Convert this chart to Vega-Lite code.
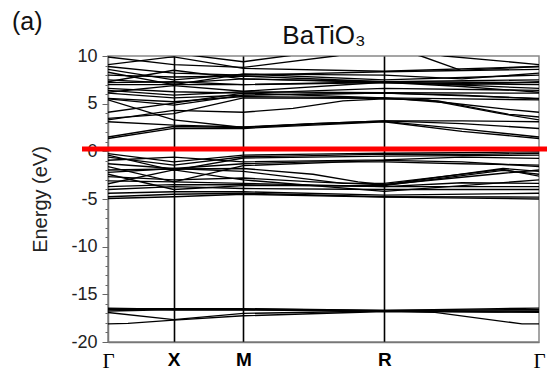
{
  "$schema": "https://vega.github.io/schema/vega-lite/v6.json",
  "width": 431,
  "height": 286,
  "autosize": {"type": "none"},
  "padding": {"left": 108, "top": 56, "right": 8, "bottom": 32},
  "background": "white",
  "config": {"view": {"stroke": "#888", "strokeWidth": 1.5}},
  "title": {"text": "(a)", "anchor": "start", "frame": "group", "dx": -96, "dy": 17, "fontSize": 25, "fontWeight": "normal", "font": "Liberation Sans", "color": "#111"},
  "datasets": {
    "bands": [
      {"b":"b1","k":0,"e":1.35},{"b":"b1","k":65.7,"e":2.4},{"b":"b1","k":135.3,"e":2.4},{"b":"b1","k":205,"e":2.75},{"b":"b1","k":276.3,"e":3.1},{"b":"b1","k":354,"e":2.1},{"b":"b1","k":431,"e":1.35},
      {"b":"b2","k":0,"e":1.5},{"b":"b2","k":65.7,"e":2.6},{"b":"b2","k":135.3,"e":2.5},{"b":"b2","k":205,"e":2.85},{"b":"b2","k":276.3,"e":3.15},{"b":"b2","k":354,"e":2.35},{"b":"b2","k":431,"e":1.5},
      {"b":"b3","k":0,"e":3.1},{"b":"b3","k":65.7,"e":2.75},{"b":"b3","k":135.3,"e":2.55},{"b":"b3","k":205,"e":2.9},{"b":"b3","k":276.3,"e":3.2},{"b":"b3","k":354,"e":3.2},{"b":"b3","k":431,"e":3.1},
      {"b":"b4","k":0,"e":3.3},{"b":"b4","k":65.7,"e":4.3},{"b":"b4","k":135.3,"e":4.1},{"b":"b4","k":185,"e":4.5},{"b":"b4","k":235,"e":5.3},{"b":"b4","k":276.3,"e":5.5},{"b":"b4","k":320,"e":5.4},{"b":"b4","k":390,"e":4.0},{"b":"b4","k":431,"e":3.3},
      {"b":"b5","k":0,"e":5.4},{"b":"b5","k":65.7,"e":3.3},{"b":"b5","k":135.3,"e":2.5},{"b":"b5","k":205,"e":2.9},{"b":"b5","k":276.3,"e":3.2},{"b":"b5","k":354,"e":2.9},{"b":"b5","k":431,"e":2.4},
      {"b":"b6","k":0,"e":3.45},{"b":"b6","k":65.7,"e":3.95},{"b":"b6","k":135.3,"e":5.6},{"b":"b6","k":276.3,"e":5.55},{"b":"b6","k":330,"e":5.3},{"b":"b6","k":400,"e":3.9},{"b":"b6","k":431,"e":3.6},
      {"b":"b7","k":0,"e":4.1},{"b":"b7","k":65.7,"e":5.05},{"b":"b7","k":135.3,"e":6.1},{"b":"b7","k":276.3,"e":5.6},{"b":"b7","k":340,"e":5.1},{"b":"b7","k":400,"e":4.4},{"b":"b7","k":431,"e":4.1},
      {"b":"b8","k":0,"e":5.55},{"b":"b8","k":65.7,"e":5.2},{"b":"b8","k":135.3,"e":5.75},{"b":"b8","k":276.3,"e":5.6},{"b":"b8","k":354,"e":5.5},{"b":"b8","k":431,"e":5.4},
      {"b":"b9","k":0,"e":6.1},{"b":"b9","k":65.7,"e":5.6},{"b":"b9","k":135.3,"e":5.9},{"b":"b9","k":276.3,"e":6.1},{"b":"b9","k":431,"e":5.55},
      {"b":"b10","k":0,"e":6.4},{"b":"b10","k":65.7,"e":5.9},{"b":"b10","k":135.3,"e":6.25},{"b":"b10","k":276.3,"e":6.15},{"b":"b10","k":431,"e":6.1},
      {"b":"b11","k":0,"e":6.6},{"b":"b11","k":65.7,"e":6.25},{"b":"b11","k":135.3,"e":6.1},{"b":"b11","k":276.3,"e":6.6},{"b":"b11","k":431,"e":6.4},
      {"b":"b12","k":0,"e":7.0},{"b":"b12","k":65.7,"e":7.0},{"b":"b12","k":135.3,"e":7.0},{"b":"b12","k":276.3,"e":7.3},{"b":"b12","k":431,"e":6.6},
      {"b":"b13","k":0,"e":7.2},{"b":"b13","k":65.7,"e":7.3},{"b":"b13","k":135.3,"e":7.0},{"b":"b13","k":276.3,"e":7.2},{"b":"b13","k":431,"e":7.0},
      {"b":"b14","k":0,"e":7.5},{"b":"b14","k":65.7,"e":7.15},{"b":"b14","k":135.3,"e":7.6},{"b":"b14","k":276.3,"e":7.3},{"b":"b14","k":431,"e":7.2},
      {"b":"b15","k":0,"e":8.0},{"b":"b15","k":65.7,"e":7.8},{"b":"b15","k":135.3,"e":7.9},{"b":"b15","k":276.3,"e":7.3},{"b":"b15","k":431,"e":7.5},
      {"b":"b16","k":0,"e":8.6},{"b":"b16","k":65.7,"e":7.5},{"b":"b16","k":135.3,"e":8.1},{"b":"b16","k":276.3,"e":7.5},{"b":"b16","k":431,"e":8.0},
      {"b":"b17","k":0,"e":8.9},{"b":"b17","k":65.7,"e":8.2},{"b":"b17","k":135.3,"e":8.0},{"b":"b17","k":276.3,"e":8.35},{"b":"b17","k":431,"e":8.6},
      {"b":"b18","k":0,"e":9.1},{"b":"b18","k":60,"e":9.85},{"b":"b18","k":65.7,"e":9.9},{"b":"b18","k":135.3,"e":8.7},{"b":"b18","k":276.3,"e":8.4},{"b":"b18","k":431,"e":8.9},
      {"b":"b19","k":0,"e":9.9},{"b":"b19","k":65.7,"e":9.1},{"b":"b19","k":135.3,"e":8.8},{"b":"b19","k":227,"e":10.0},{"b":"b19","k":276.3,"e":10.8},{"b":"b19","k":313,"e":10.0},{"b":"b19","k":353,"e":8.5},{"b":"b19","k":431,"e":8.9},
      {"b":"b20","k":0,"e":10.5},{"b":"b20","k":65.7,"e":10.3},{"b":"b20","k":135.3,"e":9.4},{"b":"b20","k":200,"e":10.3},{"b":"b20","k":276.3,"e":11},{"b":"b20","k":337,"e":10.0},{"b":"b20","k":431,"e":9.1},
      {"b":"b21","k":0,"e":5.5},{"b":"b21","k":65.7,"e":4.85},{"b":"b21","k":135.3,"e":5.9},{"b":"b21","k":276.3,"e":6.1},{"b":"b21","k":354,"e":5.9},{"b":"b21","k":431,"e":5.5},
      {"b":"b22","k":0,"e":7.3},{"b":"b22","k":65.7,"e":8.5},{"b":"b22","k":135.3,"e":7.6},{"b":"b22","k":276.3,"e":7.2},{"b":"b22","k":354,"e":7.0},{"b":"b22","k":431,"e":7.3},
      {"b":"b23","k":0,"e":6.2},{"b":"b23","k":65.7,"e":6.9},{"b":"b23","k":135.3,"e":6.3},{"b":"b23","k":276.3,"e":7.25},{"b":"b23","k":354,"e":6.8},{"b":"b23","k":431,"e":6.2},
      {"b":"b24","k":0,"e":8.3},{"b":"b24","k":65.7,"e":7.0},{"b":"b24","k":135.3,"e":8.1},{"b":"b24","k":276.3,"e":8.0},{"b":"b24","k":354,"e":7.6},{"b":"b24","k":431,"e":8.2},
      {"b":"v1","k":0,"e":-0.24},{"b":"v1","k":65.7,"e":-1.1},{"b":"v1","k":135.3,"e":-0.4},{"b":"v1","k":205,"e":-0.3},{"b":"v1","k":276.3,"e":-0.2},{"b":"v1","k":354,"e":-0.15},{"b":"v1","k":431,"e":-0.05},
      {"b":"v2","k":0,"e":-0.6},{"b":"v2","k":65.7,"e":-1.44},{"b":"v2","k":135.3,"e":-0.57},{"b":"v2","k":205,"e":-0.45},{"b":"v2","k":276.3,"e":-0.3},{"b":"v2","k":354,"e":-0.35},{"b":"v2","k":431,"e":-0.2},
      {"b":"v3","k":0,"e":-0.94},{"b":"v3","k":65.7,"e":-0.6},{"b":"v3","k":135.3,"e":-1.1},{"b":"v3","k":276.3,"e":-0.9},{"b":"v3","k":354,"e":-0.6},{"b":"v3","k":431,"e":-0.74},
      {"b":"v4","k":0,"e":-1.3},{"b":"v4","k":65.7,"e":-1.8},{"b":"v4","k":135.3,"e":-1.3},{"b":"v4","k":205,"e":-1.1},{"b":"v4","k":276.3,"e":-1.1},{"b":"v4","k":354,"e":-1.3},{"b":"v4","k":431,"e":-1.44},
      {"b":"v5","k":0,"e":-1.96},{"b":"v5","k":65.7,"e":-1.85},{"b":"v5","k":135.3,"e":-1.8},{"b":"v5","k":205,"e":-2.4},{"b":"v5","k":250,"e":-3.2},{"b":"v5","k":276.3,"e":-3.5},{"b":"v5","k":395,"e":-1.8},{"b":"v5","k":431,"e":-2.1},
      {"b":"v6","k":0,"e":-2.2},{"b":"v6","k":65.7,"e":-1.8},{"b":"v6","k":135.3,"e":-2.1},{"b":"v6","k":235,"e":-3.36},{"b":"v6","k":276.3,"e":-3.36},{"b":"v6","k":395,"e":-1.9},{"b":"v6","k":431,"e":-2.6},
      {"b":"v7","k":0,"e":-2.66},{"b":"v7","k":65.7,"e":-3.0},{"b":"v7","k":135.3,"e":-2.8},{"b":"v7","k":205,"e":-3.2},{"b":"v7","k":276.3,"e":-3.5},{"b":"v7","k":395,"e":-2.3},{"b":"v7","k":431,"e":-1.96},
      {"b":"v8","k":0,"e":-3.1},{"b":"v8","k":65.7,"e":-3.2},{"b":"v8","k":135.3,"e":-3.36},{"b":"v8","k":276.3,"e":-3.7},{"b":"v8","k":354,"e":-3.3},{"b":"v8","k":431,"e":-3.36},
      {"b":"v9","k":0,"e":-3.7},{"b":"v9","k":65.7,"e":-3.5},{"b":"v9","k":135.3,"e":-3.5},{"b":"v9","k":276.3,"e":-3.7},{"b":"v9","k":431,"e":-3.7},
      {"b":"v10","k":0,"e":-4.0},{"b":"v10","k":65.7,"e":-3.7},{"b":"v10","k":135.3,"e":-3.9},{"b":"v10","k":276.3,"e":-4.0},{"b":"v10","k":431,"e":-4.0},
      {"b":"v11","k":0,"e":-4.4},{"b":"v11","k":65.7,"e":-4.24},{"b":"v11","k":135.3,"e":-4.24},{"b":"v11","k":276.3,"e":-4.6},{"b":"v11","k":431,"e":-4.4},
      {"b":"v12","k":0,"e":-4.76},{"b":"v12","k":65.7,"e":-4.5},{"b":"v12","k":135.3,"e":-4.4},{"b":"v12","k":276.3,"e":-4.76},{"b":"v12","k":431,"e":-4.8},
      {"b":"v13","k":0,"e":-4.95},{"b":"v13","k":65.7,"e":-4.76},{"b":"v13","k":135.3,"e":-4.5},{"b":"v13","k":276.3,"e":-4.8},{"b":"v13","k":431,"e":-5.0},
      {"b":"v14","k":0,"e":-0.4},{"b":"v14","k":65.7,"e":-2.0},{"b":"v14","k":135.3,"e":-0.7},{"b":"v14","k":276.3,"e":-0.5},{"b":"v14","k":431,"e":-0.4},
      {"b":"v15","k":0,"e":-3.4},{"b":"v15","k":65.7,"e":-1.95},{"b":"v15","k":135.3,"e":-3.0},{"b":"v15","k":276.3,"e":-4.2},{"b":"v15","k":431,"e":-3.0},
      {"b":"v16","k":0,"e":-1.6},{"b":"v16","k":65.7,"e":-3.2},{"b":"v16","k":135.3,"e":-1.5},{"b":"v16","k":276.3,"e":-0.95},{"b":"v16","k":354,"e":-1.1},{"b":"v16","k":431,"e":-1.6},
      {"b":"v17","k":0,"e":-2.4},{"b":"v17","k":65.7,"e":-4.0},{"b":"v17","k":135.3,"e":-3.6},{"b":"v17","k":276.3,"e":-3.6},{"b":"v17","k":395,"e":-2.0},{"b":"v17","k":431,"e":-2.4},
      {"b":"L1","k":0,"e":-18.1},{"b":"L1","k":20,"e":-18.05},{"b":"L1","k":65.7,"e":-17.7},{"b":"L1","k":135.3,"e":-17.25},{"b":"L1","k":276.3,"e":-16.8},{"b":"L1","k":327,"e":-16.9},{"b":"L1","k":414,"e":-18.1},{"b":"L1","k":431,"e":-18.1},
      {"b":"L2","k":0,"e":-16.9},{"b":"L2","k":65.7,"e":-17.65},{"b":"L2","k":135.3,"e":-17.0},{"b":"L2","k":276.3,"e":-16.75},{"b":"L2","k":327,"e":-16.8},{"b":"L2","k":431,"e":-16.9},
      {"b":"L3","k":0,"e":-16.75},{"b":"L3","k":25,"e":-16.7},{"b":"L3","k":65.7,"e":-16.6},{"b":"L3","k":135.3,"e":-16.6},{"b":"L3","k":276.3,"e":-16.75},{"b":"L3","k":431,"e":-16.75},
      {"b":"L4","k":0,"e":-16.6},{"b":"L4","k":65.7,"e":-16.55},{"b":"L4","k":135.3,"e":-16.55},{"b":"L4","k":276.3,"e":-16.7},{"b":"L4","k":431,"e":-16.6},
      {"b":"L5","k":0,"e":-16.45},{"b":"L5","k":30,"e":-16.5},{"b":"L5","k":65.7,"e":-16.5},{"b":"L5","k":135.3,"e":-16.5},{"b":"L5","k":276.3,"e":-16.7},{"b":"L5","k":390,"e":-16.5},{"b":"L5","k":431,"e":-16.45},
      {"b":"L6","k":0,"e":-16.5},{"b":"L6","k":30,"e":-16.55},{"b":"L6","k":65.7,"e":-16.65},{"b":"L6","k":135.3,"e":-16.65},{"b":"L6","k":276.3,"e":-16.75},{"b":"L6","k":390,"e":-16.85},{"b":"L6","k":431,"e":-16.8}
    ],
    "fermi": [{"x0": -26, "x1": 439, "e": 0.25}]
  },
  "layer": [
    {
      "data": {"name": "bands"},
      "mark": {"type": "line", "color": "black", "strokeWidth": 1.35, "clip": true},
      "encoding": {
        "x": {
          "field": "k", "type": "quantitative",
          "scale": {"domain": [0, 431], "nice": false, "zero": false},
          "axis": {
            "values": [0, 65.7, 135.3, 276.3, 431],
            "labelExpr": "datum.value == 0 || datum.value == 431 ? 'Γ' : datum.value < 100 ? 'X' : datum.value < 200 ? 'M' : 'R'",
            "labelFont": {"condition": {"test": "datum.value == 0 || datum.value == 431", "value": "Liberation Serif"}, "value": "Liberation Sans"},
            "labelFontWeight": {"condition": {"test": "datum.value == 0 || datum.value == 431", "value": "normal"}, "value": "bold"},
            "labelFontSize": {"condition": {"test": "datum.value == 0 || datum.value == 431", "value": 21}, "value": 19},
            "labelColor": "black",
            "labelFlush": false,
            "labelOverlap": false,
            "labelPadding": 8,
            "ticks": false,
            "grid": true,
            "gridColor": {"condition": {"test": "datum.value == 0 || datum.value == 431", "value": "transparent"}, "value": "black"},
            "gridWidth": 1.6,
            "domainColor": "#777",
            "domainWidth": 1.5,
            "title": null
          }
        },
        "y": {
          "field": "e", "type": "quantitative",
          "scale": {"domain": [-20, 10], "nice": false, "zero": false},
          "axis": {
            "values": [-19,-18,-17,-16,-14,-13,-12,-11,-9,-8,-7,-6,-4,-3,-2,-1,1,2,3,4,6,7,8,9],
            "labels": false,
            "ticks": true,
            "tickSize": 3,
            "tickColor": "#666",
            "tickWidth": 1,
            "domainColor": "#777",
            "domainWidth": 1.5,
            "grid": false,
            "title": null
          }
        },
        "detail": {"field": "b"}
      }
    },
    {
      "data": {"name": "fermi"},
      "mark": {"type": "rule", "color": "#ff0000", "strokeWidth": 5, "clip": false},
      "encoding": {
        "x": {
          "field": "x0", "type": "quantitative",
          "axis": {"orient": "top", "title": "BaTiO₃", "labels": false, "ticks": false, "domain": false, "grid": false, "titleFont": "Liberation Sans", "titleFontSize": 26, "titleFontWeight": "normal", "titleColor": "#111", "titlePadding": 8}
        },
        "x2": {"field": "x1"},
        "y": {
          "field": "e", "type": "quantitative",
          "axis": {
            "orient": "left",
            "values": [-20, -15, -10, -5, 0, 5, 10],
            "labelExpr": "'' + datum.value",
            "labelOverlap": false,
            "tickSize": 6,
            "tickColor": "#666",
            "tickWidth": 1,
            "domain": false,
            "labelFont": "Liberation Sans",
            "labelFontSize": 18,
            "labelColor": "#222",
            "labelPadding": 5,
            "grid": false,
            "title": "Energy (eV)",
            "titleFont": "Liberation Sans",
            "titleFontSize": 20,
            "titleFontWeight": "normal",
            "titleColor": "#222",
            "titlePadding": 20
          }
        }
      }
    }
  ],
  "resolve": {"axis": {"x": "independent", "y": "independent"}}
}
